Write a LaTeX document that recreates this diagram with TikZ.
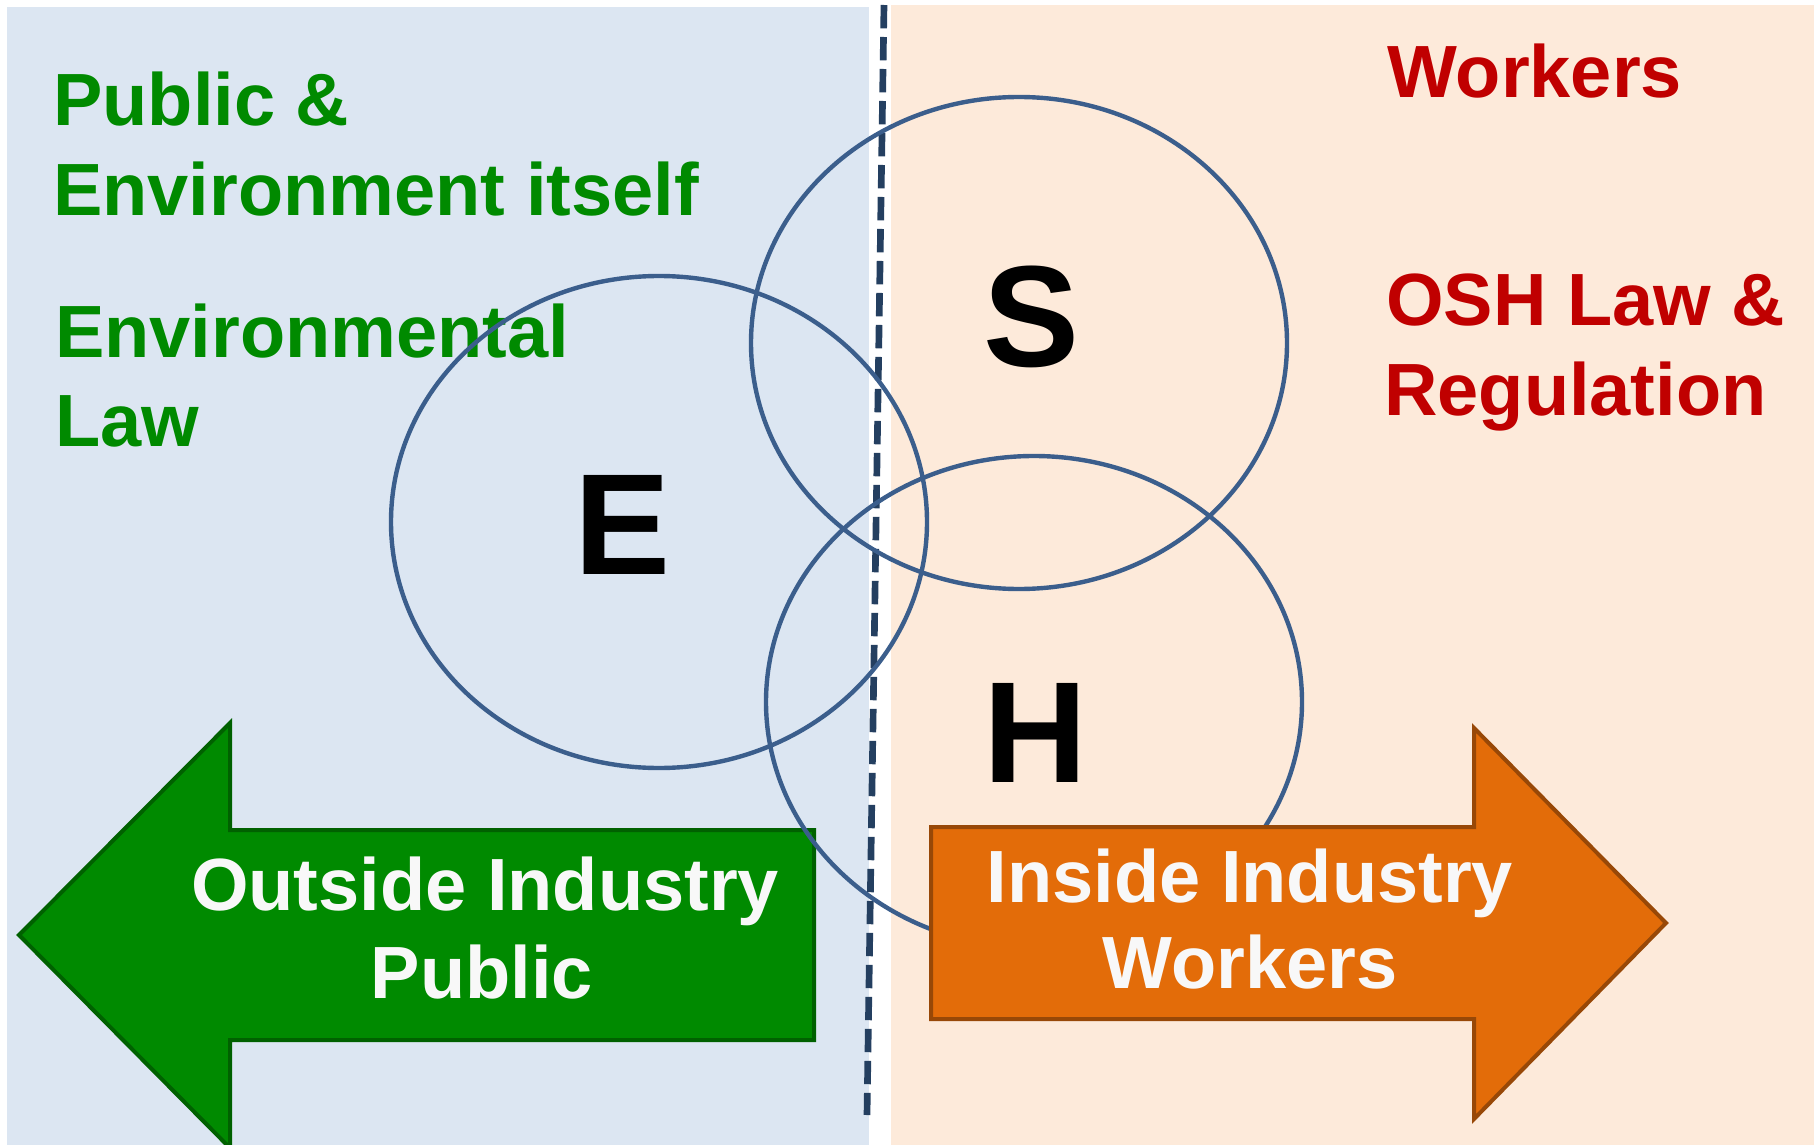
\documentclass[tikz,border=0pt]{standalone}
\usepackage{fontspec}
\setmainfont{Liberation Sans}
\usepackage{xcolor}
\usepackage{tikz}
\usetikzlibrary{shapes.geometric}

\definecolor{envbg}{HTML}{DCE6F2}
\definecolor{oshbg}{HTML}{FDEADA}
\definecolor{divline}{HTML}{243F60}
\definecolor{vennline}{HTML}{3B5E8C}
\definecolor{envgreen}{HTML}{008A00}
\definecolor{envgreendk}{HTML}{006100}
\definecolor{oshorange}{HTML}{E36C09}
\definecolor{oshorangedk}{HTML}{984807}
\definecolor{oshred}{HTML}{C00000}
\definecolor{arrtext}{HTML}{F8F8F8}

\tikzset{
  lbl/.style={inner sep=0pt, font=\bfseries\fontsize{55.5}{66}\selectfont},
  letter/.style={inner sep=0pt, anchor=base, font=\bfseries\fontsize{108}{120}\selectfont},
  venn/.style={ellipse, draw=vennline, line width=3.3pt, inner sep=0pt, minimum width=402pt, minimum height=369pt},
  bigarrow/.style={line width=3pt, line join=miter}
}

\begin{document}
\begin{tikzpicture}[x=0.75pt,y=0.75pt,yscale=-1,xscale=1]

\useasboundingbox (0,0) rectangle (1814,1145);

% the two sides
\fill[envbg] (7,7) rectangle (869,1145);
\fill[oshbg] (891,5) rectangle (1814,1145);

% left side texts
\draw (53,126) node (pubTxt) [lbl, anchor=base west, text=envgreen] {Public \&};
\draw (53,215) node (envTxt) [lbl, anchor=base west, text=envgreen] {Environment itself};
\draw (55,357) node (lawTxt) [lbl, anchor=base west, text=envgreen] {Environmental};
\draw (55,446) node (lawTxtb) [lbl, anchor=base west, text=envgreen] {Law};

% right side texts
\draw (1387,98) node (wrkTxt) [lbl, anchor=base west, text=oshred] {Workers};
\draw (1386,325) node (oshTxt) [lbl, anchor=base west, text=oshred] {OSH Law \&};
\draw (1384,415) node (regTxt) [lbl, anchor=base west, text=oshred] {Regulation};

% divider
\coordinate (divTop) at (884,5);
\coordinate (divBot) at (867,1115);
\draw[divline, line width=5pt, dash pattern=on 17.5pt off 6.5pt] (divTop) -- (divBot);

% outside arrow
\draw[bigarrow, draw=envgreendk, fill=envgreen] (19,935) -- (230,723) -- (230,830) -- (814,830) -- (814,1040) -- (230,1040) -- (230,1148) -- cycle ;

\draw (485,910) node (outTxt) [lbl, anchor=base, text=arrtext] {Outside Industry};
\draw (482,998) node (pubArr) [lbl, anchor=base, text=arrtext] {Public};

% E S H
\node[venn] (eCirc) at (659,522) {};
\node[venn] (sCirc) at (1019,343) {};
\node[venn] (hCirc) at (1034,702) {};

\draw (623,574) node (eLet) [letter] {E};
\draw (1032,366) node (sLet) [letter] {S};
\draw (1035,782) node (hLet) [letter] {H};

% inside arrow
\draw[bigarrow, draw=oshorangedk, fill=oshorange] (931,827) -- (1474,827) -- (1474,728) -- (1666,923) -- (1474,1119) -- (1474,1019) -- (931,1019) -- cycle ;

\draw (1250,902) node (inTxt) [lbl, anchor=base, text=arrtext] {Inside Industry};
\draw (1250,988) node (wrkArr) [lbl, anchor=base, text=arrtext] {Workers};

\end{tikzpicture}
\end{document}
